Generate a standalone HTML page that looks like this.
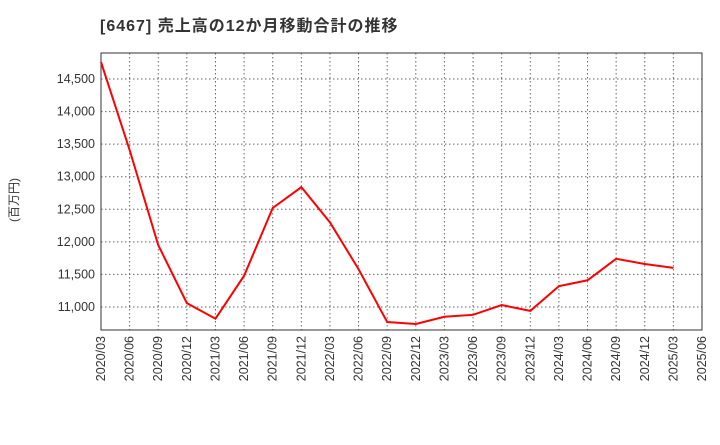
<!DOCTYPE html>
<html><head><meta charset="utf-8"><style>
body{margin:0;background:#fff;font-family:"Liberation Sans","Noto Sans CJK JP",sans-serif}
</style></head><body>
<svg id="c" width="720" height="440" xmlns="http://www.w3.org/2000/svg">
<text x="100" y="31" font-size="16" font-weight="bold" letter-spacing="1" fill="#333">[6467]  売上高の12か月移動合計の推移</text>
<text transform="translate(18,200) rotate(-90)" font-size="12" fill="#333" text-anchor="middle">(百万円)</text>
<g id="grid"></g><g id="axes"></g><g id="series"></g>
</svg>
<script>
const categories=["2020/03","2020/06","2020/09","2020/12","2021/03","2021/06","2021/09","2021/12","2022/03","2022/06","2022/09","2022/12","2023/03","2023/06","2023/09","2023/12","2024/03","2024/06","2024/09","2024/12","2025/03","2025/06"];
const salesValues=[14760,13410,11950,11060,10820,11480,12520,12840,12300,11580,10770,10740,10850,10880,11030,10940,11320,11410,11740,11660,11600];
const yTicks=[11000,11500,12000,12500,13000,13500,14000,14500];
const yTickLabels=["11,000","11,500","12,000","12,500","13,000","13,500","14,000","14,500"];
const L=101,R=702,T=53,B=330;
const xs=i=>L+(R-L)*i/(categories.length-1);
const ys=v=>307-(v-11000)*(228/3500);
const NS="http://www.w3.org/2000/svg";
function mk(parent,tag,attrs){const e=document.createElementNS(NS,tag);for(const k in attrs)e.setAttribute(k,attrs[k]);document.getElementById(parent).appendChild(e);return e;}
yTicks.forEach((v,i)=>{
 const g=mk("grid","line",{x1:L,x2:R,y1:ys(v),y2:ys(v),stroke:"#666","stroke-dasharray":"1.5,2.5","stroke-width":1});
 
 
 const t=mk("axes","text",{x:L-6,y:ys(v)+4,"font-size":12.5,fill:"#333","text-anchor":"end"});
 t.textContent=yTickLabels[i];
 
 
});
categories.forEach((c,i)=>{
 if(i>0&&i<categories.length-1){
 const g=mk("grid","line",{x1:xs(i),x2:xs(i),y1:T,y2:B,stroke:"#666","stroke-dasharray":"1.5,2.5","stroke-width":1});
 
 }
 const t=mk("axes","text",{transform:`translate(${xs(i)+4},${B+6}) rotate(-90)`,"font-size":12.5,fill:"#333","text-anchor":"end"});
 t.textContent=c;
 
 
});
const fr=mk("axes","rect",{x:L,y:T,width:R-L,height:B-T,fill:"none",stroke:"#333","stroke-width":1});


const pl=mk("series","polyline",{points:salesValues.map((v,i)=>xs(i)+","+ys(v)).join(" "),fill:"none",stroke:"#f00","stroke-width":2});


</script>
</body></html>
